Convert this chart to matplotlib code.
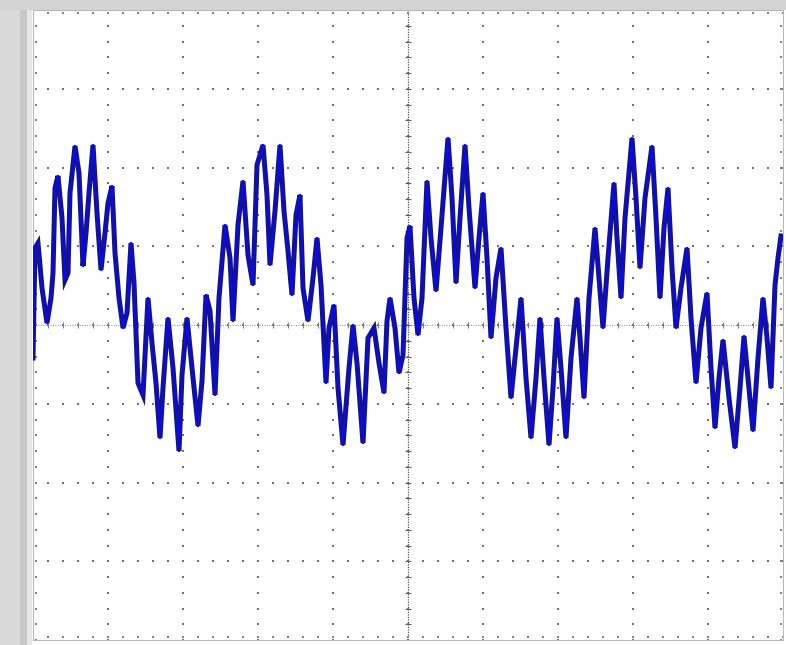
import numpy as np
import matplotlib
matplotlib.use("Agg")
import matplotlib.pyplot as plt
from matplotlib.patches import Rectangle

# scope trace: sample index (75 per division) and ADC counts
t = [0, 2, 5, 9, 14, 18, 20, 22, 25, 29, 32, 35, 37, 42, 46, 50, 53, 56, 60, 64,
     68, 72, 75, 79, 82, 86, 90, 94, 98, 101, 105, 110, 115, 119, 123, 127, 130, 135, 140, 146,
     149, 154, 159, 165, 169, 173, 177, 182, 186, 192, 197, 200, 205, 210, 215, 220, 224, 230, 234, 237,
     242, 247, 251, 255, 259, 263, 267, 270, 275, 280, 284, 288, 293, 296, 301, 305, 310, 316, 320, 324,
     330, 335, 341, 346, 351, 354, 357, 362, 366, 370, 374, 377, 381, 385, 389, 394, 398, 403, 408, 415,
     419, 423, 427, 432, 436, 442, 446, 450, 454, 458, 463, 468, 473, 478, 483, 488, 493, 498, 503, 507,
     511, 516, 520, 524, 528, 533, 538, 544, 547, 551, 556, 562, 566, 570, 575, 581, 584, 588, 592, 599,
     603, 607, 612, 619, 623, 627, 631, 635, 639, 643, 648, 654, 658, 663, 668, 674, 678, 682, 686, 690,
     696, 702, 707, 711, 715, 720, 725, 730, 734, 738, 742, 745, 748]
v = [-33, 77, 82, 37, 2, 27, 52, 137, 149, 107, 45, 52, 132, 179, 152, 59, 92, 132, 180, 112,
     55, 92, 122, 139, 72, 27, -3, 12, 82, 42, -58, -70, 27, -18, -58, -113, -63, 7, -43, -126,
     -50, 7, -43, -101, -56, 30, 14, -70, 27, 100, 67, 4, 100, 144, 70, 40, 160, 180, 130, 60,
     114, 180, 114, 74, 30, 110, 130, 37, 4, 47, 87, 40, -58, -3, 20, -63, -120, -43, 0, -38,
     -118, -13, -3, -38, -68, 4, 27, -3, -48, -30, 87, 99, 27, -10, 27, 144, 87, 34, 97, 187,
     127, 42, 107, 180, 117, 37, 87, 132, 67, -13, 47, 77, -3, -73, -23, 27, -53, -113, -53, 7,
     -53, -120, -63, 7, -43, -113, -33, 27, -13, -73, 27, 97, 47, -3, 67, 142, 87, 27, 107, 187,
     127, 57, 127, 179, 107, 27, 97, 137, 57, -3, 37, 77, 7, -58, -3, 32, -43, -103, -53, -15,
     -73, -123, -63, -11, -53, -106, -33, 27, -13, -63, 40, 67, 89]

n_xdiv = 10
n_ydiv = 8
x_per_div = 75
y_per_div = 78.75

fig = plt.figure(figsize=(7.86, 6.45), dpi=100)
fig.patch.set_facecolor("white")

# grey frame of the scope window
fig.patches.append(Rectangle((0, 0), 20 / 786, 1, transform=fig.transFigure,
                             facecolor="#dadada", edgecolor="none", zorder=0))
fig.patches.append(Rectangle((20 / 786, 0), 7 / 786, 1, transform=fig.transFigure,
                             facecolor="#c8c8c8", edgecolor="none", zorder=0))
fig.patches.append(Rectangle((27 / 786, 0), 5 / 786, 1, transform=fig.transFigure,
                             facecolor="#e8e8e8", edgecolor="none", zorder=0))
fig.patches.append(Rectangle((0, 635 / 645), 1, 10 / 645, transform=fig.transFigure,
                             facecolor="#d4d4d4", edgecolor="none", zorder=0))

ax = fig.add_axes([33 / 786, 5 / 645, 750 / 786, 630 / 645])
xmax = n_xdiv * x_per_div
ymax = n_ydiv / 2 * y_per_div
ax.set_xlim(0, xmax)
ax.set_ylim(-ymax, ymax)
ax.set_facecolor("white")
for s in ax.spines.values():
    s.set_color("#b8b8b8")
    s.set_linewidth(0.8)
ax.set_xticks([])
ax.set_yticks([])

# dotted graticule: dots every 1/5 division on each major line
xs_minor = np.arange(0, xmax + 0.1, x_per_div / 5)
ys_minor = np.arange(-ymax, ymax + 0.1, y_per_div / 5)
for i in range(1, n_xdiv):
    gx = i * x_per_div
    ax.scatter(np.full(len(ys_minor), gx), ys_minor, s=2.5, marker="s",
               color="#707070", linewidths=0, zorder=1)
for j in range(1, n_ydiv):
    gy = -ymax + j * y_per_div
    ax.scatter(xs_minor, np.full(len(xs_minor), gy), s=2.5, marker="s",
               color="#707070", linewidths=0, zorder=1)

# centre axes with tick marks
cx = n_xdiv / 2 * x_per_div
ax.axhline(0, color="#8a8a8a", lw=0.7, ls=(0, (1, 1.5)), zorder=1)
ax.axvline(cx, color="#555555", lw=0.9, ls=(0, (1, 1)), zorder=1)
ax.scatter(xs_minor, np.zeros(len(xs_minor)), s=14, marker="|",
           color="#808080", linewidths=0.8, zorder=1)
ax.scatter(np.full(len(ys_minor), cx), ys_minor, s=14, marker="_",
           color="#606060", linewidths=0.8, zorder=1)
# edge dots
ax.scatter(xs_minor, np.full(len(xs_minor), ymax - 3), s=2.5, marker="s",
           color="#808080", linewidths=0, zorder=1)
ax.scatter(xs_minor, np.full(len(xs_minor), -ymax + 3), s=2.5, marker="s",
           color="#808080", linewidths=0, zorder=1)
ax.scatter(np.full(len(ys_minor), 3), ys_minor, s=2.5, marker="s",
           color="#808080", linewidths=0, zorder=1)
ax.scatter(np.full(len(ys_minor), xmax - 2), ys_minor, s=2.5, marker="s",
           color="#808080", linewidths=0, zorder=1)

# trace: dark edge under a bright blue core
ax.plot(t, v, color="#16166a", lw=3.6, solid_joinstyle="miter", zorder=3)
ax.plot(t, v, color="#0a0ae6", lw=1.7, zorder=4)

fig.savefig("out.png", dpi=100, facecolor=fig.get_facecolor())
